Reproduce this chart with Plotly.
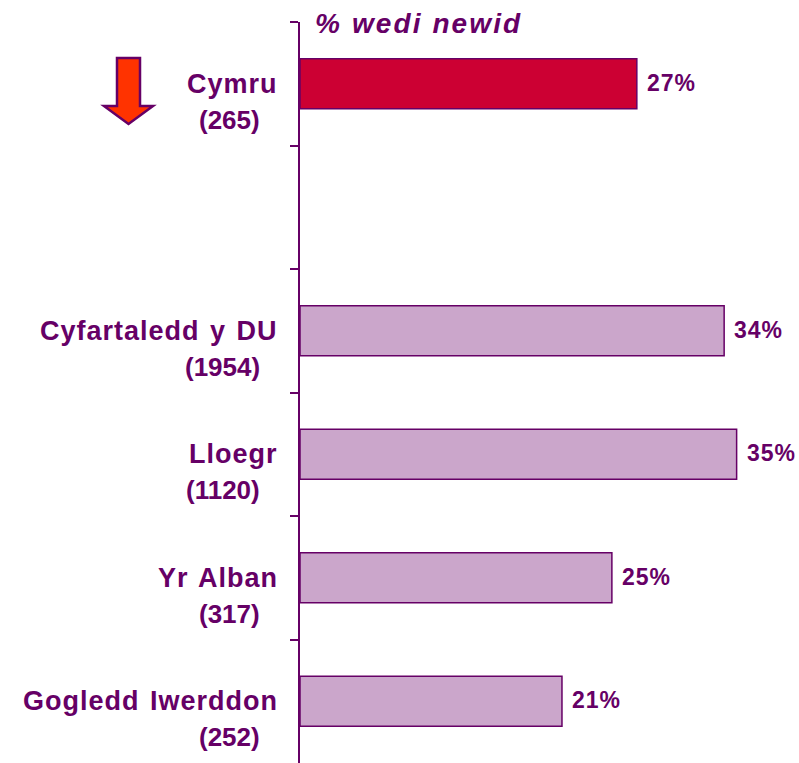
import plotly.graph_objects as go

# ---- data ----
categories = ["Cymru", " ", "Cyfartaledd y DU", "Lloegr", "Yr Alban", "Gogledd Iwerddon"]
counts = ["(265)", "", "(1954)", "(1120)", "(317)", "(252)"]
values = [27, None, 34, 35, 25, 21]
title_text = "% wedi newid"
x_max = 40

# ---- style ----
W, H = 799, 763
ML, MR, MT, MB = 300, 0, 22, 0
PURPLE = "#660066"
HIGHLIGHT = "#CC0033"
BAR = "#CBA6CB"
ARROW = "#FF3300"
FONT = "Liberation Sans, Arial, sans-serif"

bar_colors = [HIGHLIGHT if i == 0 else BAR for i in range(len(categories))]


def spaced(t, sp, ws=0):
    return f'<span style="letter-spacing:{sp}px;word-spacing:{ws}px">{t}</span>'


fig = go.Figure()
fig.add_trace(go.Bar(
    x=values, y=categories, orientation="h",
    marker=dict(color=bar_colors, line=dict(color=PURPLE, width=1.5)),
    hoverinfo="skip", showlegend=False,
))

annotations = []
for cat, cnt, v in zip(categories, counts, values):
    if v is None:
        continue
    annotations.append(dict(
        x=v, y=cat, xref="x", yref="y", text="<b>" + spaced(f"{v}%", 1.0) + "</b>",
        showarrow=False, xanchor="left", yanchor="middle", xshift=8, yshift=1,
        font=dict(family=FONT, size=23, color=PURPLE)))
    annotations.append(dict(
        x=0, y=cat, xref="paper", yref="y", text="<b>" + spaced(cat, 1.0, 2) + "</b>",
        showarrow=False, xanchor="right", yanchor="middle", xshift=-20, yshift=0,
        font=dict(family=FONT, size=27, color=PURPLE)))
    annotations.append(dict(
        x=0, y=cat, xref="paper", yref="y", text="<b>" + cnt + "</b>",
        showarrow=False, xanchor="right", yanchor="middle", xshift=-38, yshift=-36,
        font=dict(family=FONT, size=26, color=PURPLE)))

PW, PH = W - ML - MR, H - MT - MB


def px(x):
    return (x - ML) / PW


def py(y):
    return (H - MB - y) / PH


annotations.append(dict(
    x=px(313), y=py(23), xref="paper", yref="paper",
    text="<b><i>" + spaced(title_text, 2.1) + "</i></b>",
    showarrow=False, xanchor="left", yanchor="middle",
    font=dict(family=FONT, size=28, color=PURPLE)))

# down arrow
pts = [(117, 58), (140, 58), (140, 106), (153, 106), (128.5, 124), (104, 106), (117, 106)]
path = "M " + " L ".join(f"{px(a):.5f},{py(b):.5f}" for a, b in pts) + " Z"

fig.update_layout(
    width=W, height=H,
    margin=dict(l=ML, r=MR, t=MT, b=MB, pad=0),
    paper_bgcolor="white", plot_bgcolor="white",
    bargap=0.595,
    xaxis=dict(range=[0, x_max], visible=False, fixedrange=True),
    yaxis=dict(
        type="category", categoryorder="array", categoryarray=categories,
        range=[len(categories) - 0.5, -0.5],
        showline=True, linecolor=PURPLE, linewidth=2,
        ticks="outside", ticklen=8, tickwidth=1.5, tickcolor=PURPLE,
        tickson="boundaries", showticklabels=False, showgrid=False,
        zeroline=False, fixedrange=True,
    ),
    annotations=annotations,
    shapes=[dict(type="path", xref="paper", yref="paper", path=path,
                 fillcolor=ARROW, line=dict(color=PURPLE, width=2.5), layer="above")],
)

fig.write_html(
    "out.html",
    config={"displayModeBar": False},
    post_script="document.body.style.margin='0';document.body.style.overflow='hidden';",
)
